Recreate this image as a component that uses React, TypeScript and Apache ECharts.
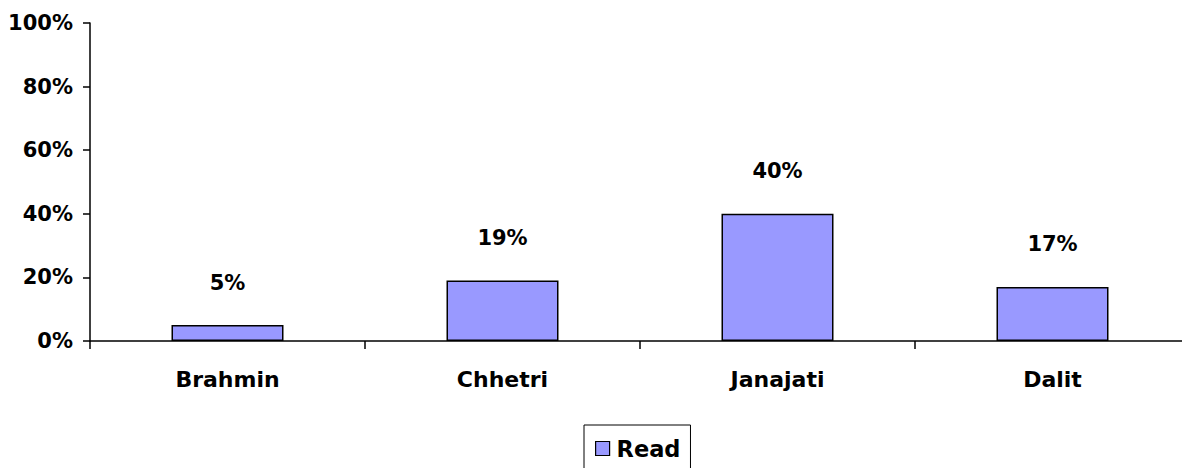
import React, { useEffect, useRef } from "react";
import * as echarts from "echarts";

const categories = ["Brahmin", "Chhetri", "Janajati", "Dalit"];
const readValues = [5, 19, 40, 17];
const seriesName = "Read";
const yTicks = { min: 0, max: 100, interval: 20 };

export default function App() {
  const ref = useRef<HTMLDivElement>(null);
  useEffect(() => {
    if (!ref.current) return;
    const chart = echarts.init(ref.current, null, { renderer: "svg" });
    const font = "'DejaVu Sans', Arial, sans-serif";
    chart.setOption({
      animation: false,
      backgroundColor: "#fff",
      textStyle: { fontFamily: font },
      grid: { left: 90, right: 0, top: 23, bottom: 127, containLabel: false },
      legend: {
        data: [seriesName],
        left: 584,
        top: 425,
        borderColor: "#000",
        borderWidth: 1,
        padding: [12, 10, 12, 11],
        itemWidth: 14,
        itemHeight: 14,
        itemGap: 5,
        icon: "rect",
        itemStyle: { borderColor: "#000", borderWidth: 1.2 },
        textStyle: { fontFamily: font, fontWeight: "bold", fontSize: 22.5, color: "#000", padding: [0, 0, 0, 2] },
      },
      xAxis: {
        type: "category",
        data: categories,
        axisLine: { lineStyle: { color: "#000", width: 1.5 } },
        axisTick: { show: true, length: 8, lineStyle: { color: "#000", width: 1.5 } },
        axisLabel: { color: "#000", fontWeight: "bold", fontSize: 22, fontFamily: font, margin: 27 },
      },
      yAxis: {
        type: "value",
        min: yTicks.min,
        max: yTicks.max,
        interval: yTicks.interval,
        splitLine: { show: false },
        axisLine: { show: true, lineStyle: { color: "#000", width: 1.5 } },
        axisTick: { show: true, length: 7, lineStyle: { color: "#000", width: 1.5 } },
        axisLabel: { color: "#000", fontWeight: "bold", fontSize: 21, fontFamily: font, margin: 17, formatter: "{value}%" },
      },
      series: [
        {
          name: seriesName,
          type: "bar",
          data: readValues,
          barWidth: 112,
          itemStyle: { color: "#9999FF", borderColor: "#000", borderWidth: 1.5 },
          label: {
            show: true,
            position: "top",
            distance: 32,
            formatter: "{c}%",
            color: "#000",
            fontWeight: "bold",
            fontSize: 21,
            fontFamily: font,
          },
        },
      ],
    });
    return () => chart.dispose();
  }, []);
  return (
    <div style={{ position: "fixed", left: 0, top: 0, width: 1182, height: 468, overflow: "hidden", background: "#fff" }}>
      <div ref={ref} style={{ width: 1190, height: 468 }} />
    </div>
  );
}
